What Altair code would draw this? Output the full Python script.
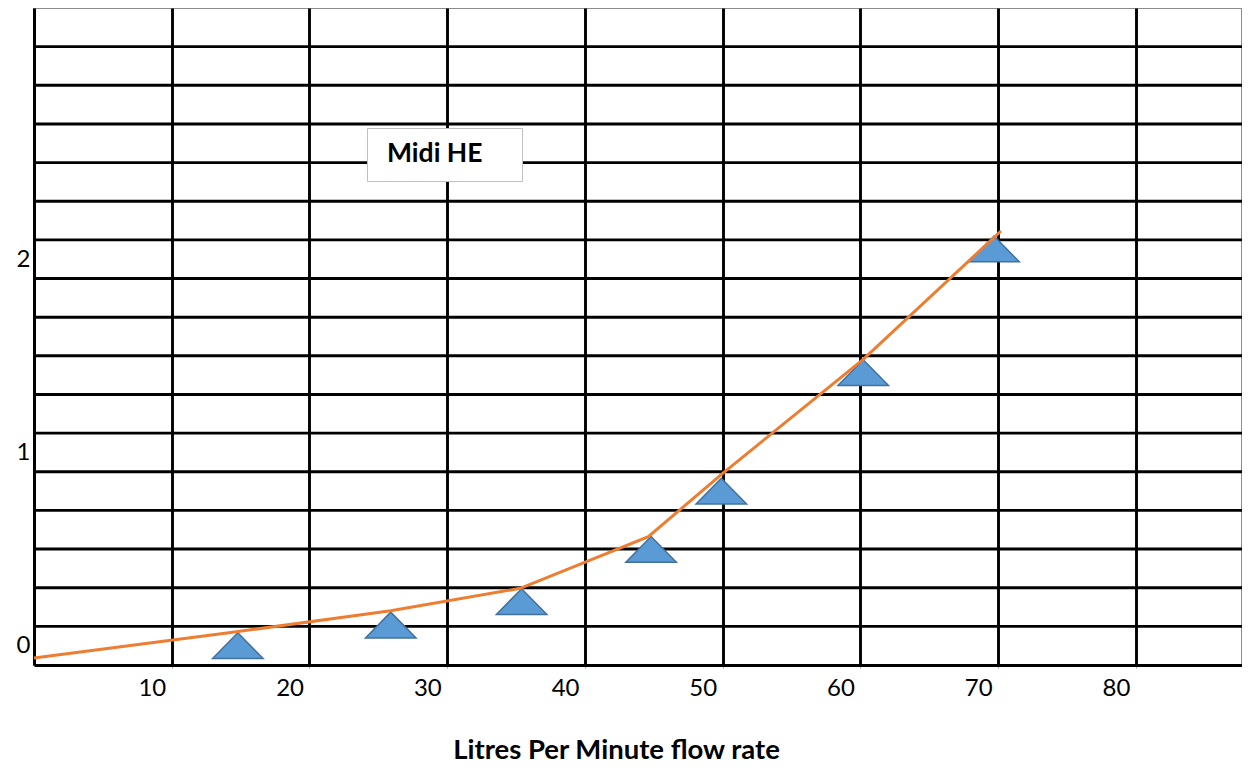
import altair as alt
import pandas as pd

# ---- data ----
series_name = "Midi HE"
tri_x = [14.8, 25.9, 35.4, 44.8, 49.9, 60.2, 69.7]
tri_y = [0.0, 0.107, 0.228, 0.498, 0.80, 1.413, 2.053]
line_x = [0.0, 14.7, 25.9, 35.3, 44.6, 50.0, 60.2, 70.2]
line_y = [-0.064, 0.072, 0.181, 0.297, 0.564, 0.892, 1.482, 2.146]
x_tick_values = [10, 20, 30, 40, 50, 60, 70, 80]
y_label_values = [0, 1, 2]
y_grid_values = [0.1, 0.3, 0.5, 0.7, 0.9, 1.1, 1.3, 1.5, 1.7, 1.9,
                 2.1, 2.3, 2.5, 2.7, 2.9, 3.1]
x_axis_title = "Litres Per Minute flow rate"

tri_df = pd.DataFrame({"x": tri_x, "y": tri_y})
line_df = pd.DataFrame({"x": line_x, "y": line_y, "series": [series_name] * len(line_x)})
grid_df = pd.DataFrame({"y": y_grid_values})

FONT = "Lato"
x_scale = alt.Scale(domain=[0, 87.7], nice=False, zero=False)
y_scale = alt.Scale(domain=[-0.1, 3.3], nice=False, zero=False)

x_axis = alt.Axis(
    values=x_tick_values, format="d", grid=True, gridColor="black", gridWidth=2.9,
    domainColor="black", domainWidth=3, tickSize=3, tickColor="#999999", tickWidth=1,
    labelFont=FONT, labelFontSize=24, labelColor="black", labelAlign="right",
    labelOffset=-6, labelPadding=8, labelBaseline="top", labelFlush=False,
    labelOverlap=False, title=x_axis_title, titleFont=FONT, titleFontSize=27.5,
    titleFontWeight="bold", titleColor="black", titleX=582, titleY=93,
    titleAlign="center", titleBaseline="alphabetic",
)
y_axis = alt.Axis(
    values=y_label_values, grid=False, ticks=False, domainColor="black", domainWidth=3,
    labelFont=FONT, labelFontSize=24, labelColor="black", labelPadding=4,
    labelFlush=False, labelOverlap=False, title=None,
)

grid = alt.Chart(grid_df).mark_rule(color="black", strokeWidth=2.9).encode(
    y=alt.Y("y:Q", scale=y_scale, axis=y_axis)
)

tri = alt.Chart(tri_df).mark_point(
    shape="M-1,0.51L1,0.51L0,-0.51Z", size=2550, filled=True,
    fill="#5B9BD5", stroke="#41719C", strokeWidth=1.5, opacity=1,
).encode(
    x=alt.X("x:Q", scale=x_scale, axis=x_axis),
    y=alt.Y("y:Q", scale=y_scale, axis=y_axis),
)

line = alt.Chart(line_df).mark_line(strokeWidth=3).encode(
    x=alt.X("x:Q", scale=x_scale, axis=x_axis),
    y=alt.Y("y:Q", scale=y_scale, axis=y_axis),
    color=alt.Color(
        "series:N",
        scale=alt.Scale(domain=[series_name], range=["#ED7D31"]),
        legend=alt.Legend(
            orient="none", legendX=333, legendY=120,
            title="\u00a0", titleOrient="right", titlePadding=27,
            titleFont=FONT, titleFontSize=26.5,
            fillColor="white", strokeColor="#BFBFBF", padding=13,
            labelFont=FONT, labelFontSize=26.5, labelFontWeight="bold",
            labelColor="black", symbolSize=0,
            symbolStrokeWidth=0, symbolOpacity=0,
            labelOffset=alt.ExprRef(expr="-19.5"),
        ),
    ),
)

chart = alt.layer(grid, tri, line).properties(
    width=1208, height=657,
    autosize=alt.AutoSizeParams(type="none"),
    padding={"left": 26, "top": 0, "right": 0, "bottom": 100},
    background="white",
).configure_view(stroke="#8C8C8C", strokeWidth=2)

chart.save("out.html", embed_options={"renderer": "svg", "actions": False})
